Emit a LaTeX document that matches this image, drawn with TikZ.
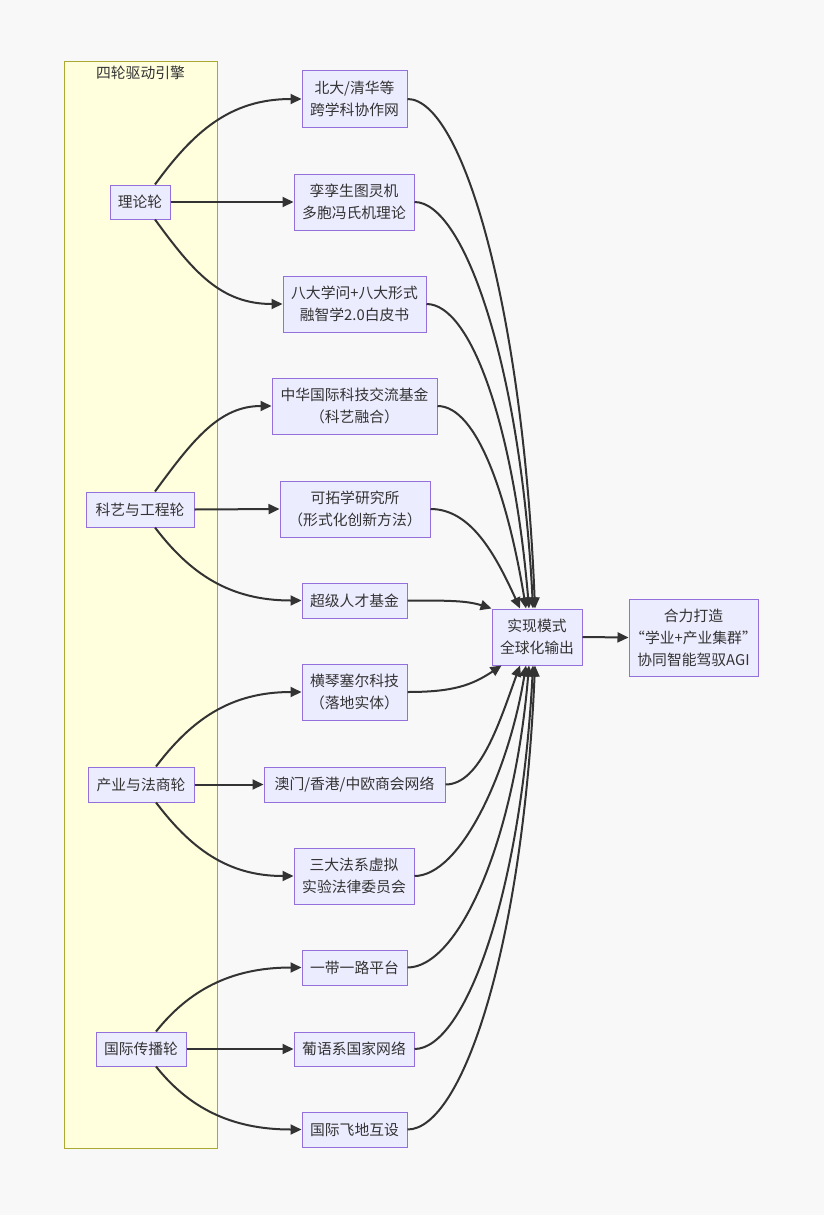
\documentclass[tikz,border=0pt]{standalone}
\usepackage{fontspec}
\setmainfont{Noto Sans CJK SC}
\usetikzlibrary{arrows.meta,calc}
\definecolor{bg}{HTML}{F8F8F8}
\definecolor{nodefill}{HTML}{ECECFF}
\definecolor{nodeline}{HTML}{9370DB}
\definecolor{grpfill}{HTML}{FFFFDE}
\definecolor{grpline}{HTML}{AAAA33}
\definecolor{ink}{HTML}{333333}
\begin{document}
\begin{tikzpicture}[x=1pt,y=-1pt,
  box/.style={draw=nodeline,fill=nodefill,line width=1pt,inner sep=0pt,align=center,text=ink,font=\fontsize{14.8}{22}\selectfont},
  conn/.style={draw=ink,line width=2pt,-{Triangle[length=11pt,width=10pt]}},
]
\fill[bg] (0,0) rectangle (824,1215);
\useasboundingbox (0,0) rectangle (824,1215);

% group
\node[draw=grpline,fill=grpfill,line width=1pt,minimum width=153pt,minimum height=1086pt,inner sep=0pt] (grp) at (140.5,605) {};
\node[text=ink,font=\fontsize{14.8}{22}\selectfont,inner sep=0pt] (gt) at (140.5,73) {四轮驱动引擎};

% wheels
\node[box,minimum width=60pt,minimum height=34pt] (t) at (140,202) {理论轮};
\node[box,minimum width=108pt,minimum height=35pt] (k) at (140,509.5) {科艺与工程轮};
\node[box,minimum width=106pt,minimum height=35pt] (c) at (141,784.5) {产业与法商轮};
\node[box,minimum width=90pt,minimum height=34pt] (g) at (141,1049) {国际传播轮};

% middle column
\node[box,minimum width=105pt,minimum height=56pt] (n1) at (354.5,99) {北大/清华等\\跨学科协作网};
\node[box,minimum width=120pt,minimum height=56pt] (n2) at (354,202) {孪孪生图灵机\\多胞冯氏机理论};
\node[box,minimum width=143pt,minimum height=56pt] (n3) at (354.5,304) {八大学问+八大形式\\融智学2.0白皮书};
\node[box,minimum width=165pt,minimum height=56pt] (n4) at (354.5,406) {中华国际科技交流基金\\（科艺融合）};
\node[box,minimum width=150pt,minimum height=56pt] (n5) at (355,509) {可拓学研究所\\（形式化创新方法）};
\node[box,minimum width=105pt,minimum height=35pt] (n6) at (354.5,600.5) {超级人才基金};
\node[box,minimum width=105pt,minimum height=56pt] (n7) at (354.5,692) {横琴塞尔科技\\（落地实体）};
\node[box,minimum width=181pt,minimum height=35pt] (n8) at (354.5,784.5) {澳门/香港/中欧商会网络};
\node[box,minimum width=120pt,minimum height=56pt] (n9) at (354,876) {三大法系虚拟\\实验法律委员会};
\node[box,minimum width=105pt,minimum height=35pt] (n10) at (354.5,967.5) {一带一路平台};
\node[box,minimum width=120pt,minimum height=34pt] (n11) at (354,1049) {葡语系国家网络};
\node[box,minimum width=105pt,minimum height=35pt] (n12) at (354.5,1129.5) {国际飞地互设};

% hub and goal
\node[box,minimum width=90pt,minimum height=56pt] (hub) at (537,637) {实现模式\\全球化输出};
\node[box,minimum width=129pt,minimum height=77pt] (goal) at (693.5,637.5) {合力打造\\“学业+产业集群”\\协同智能驾驭AGI};

% wheel -> middle
\draw[conn] ($(t.north)+(15,0)$) .. controls +(38,-52) and +(-72,0) .. (n1.west);
\draw[conn] (t.east) -- (n2.west);
\draw[conn] ($(t.south)+(15,0)$) .. controls +(38,52) and +(-62,0) .. (n3.west);

\draw[conn] ($(k.north)+(15,0)$) .. controls +(38,-52) and +(-52,0) .. (n4.west);
\draw[conn] (k.east) -- (n5.west);
\draw[conn] ($(k.south)+(15,0)$) .. controls +(35,46) and +(-72,0) .. (n6.west);

\draw[conn] ($(c.north)+(15,0)$) .. controls +(35,-46) and +(-72,0) .. (n7.west);
\draw[conn] (c.east) -- (n8.west);
\draw[conn] ($(c.south)+(15,0)$) .. controls +(35,46) and +(-66,0) .. (n9.west);

\draw[conn] ($(g.north)+(15,0)$) .. controls +(32,-40) and +(-72,0) .. (n10.west);
\draw[conn] (g.east) -- (n11.west);
\draw[conn] ($(g.south)+(15,0)$) .. controls +(32,40) and +(-72,0) .. (n12.west);

% middle -> hub (top)
\draw[conn] (n1.east) .. controls +(55,0) and +(-12,-300) .. ($(hub.north)+(-2,0)$);
\draw[conn] (n2.east) .. controls +(50,0) and +(-12,-240) .. ($(hub.north)+(-4,0)$);
\draw[conn] (n3.east) .. controls +(45,0) and +(-15,-180) .. ($(hub.north)+(-8,0)$);
\draw[conn] (n4.east) .. controls +(40,0) and +(-18,-110) .. ($(hub.north)+(-11,0)$);
\draw[conn] (n5.east) .. controls +(40,0) and +(-25,-55) .. ($(hub.north)+(-17,0)$);
\draw[conn] (n6.east) .. controls +(40,0) and +(-25,-8) .. (hub.north west);
% middle -> hub (bottom)
\draw[conn] (n7.east) .. controls +(45,0) and +(-30,20) .. ($(hub.south west)+(10,0)$);
\draw[conn] (n8.east) .. controls +(35,0) and +(-20,55) .. ($(hub.south)+(-17,0)$);
\draw[conn] (n9.east) .. controls +(45,0) and +(-18,110) .. ($(hub.south)+(-11,0)$);
\draw[conn] (n10.east) .. controls +(50,0) and +(-15,180) .. ($(hub.south)+(-8,0)$);
\draw[conn] (n11.east) .. controls +(50,0) and +(-12,230) .. ($(hub.south)+(-4,0)$);
\draw[conn] (n12.east) .. controls +(55,0) and +(-12,280) .. ($(hub.south)+(-2,0)$);

% hub -> goal
\draw[conn] (hub.east) -- (goal.west);
\end{tikzpicture}
\end{document}
